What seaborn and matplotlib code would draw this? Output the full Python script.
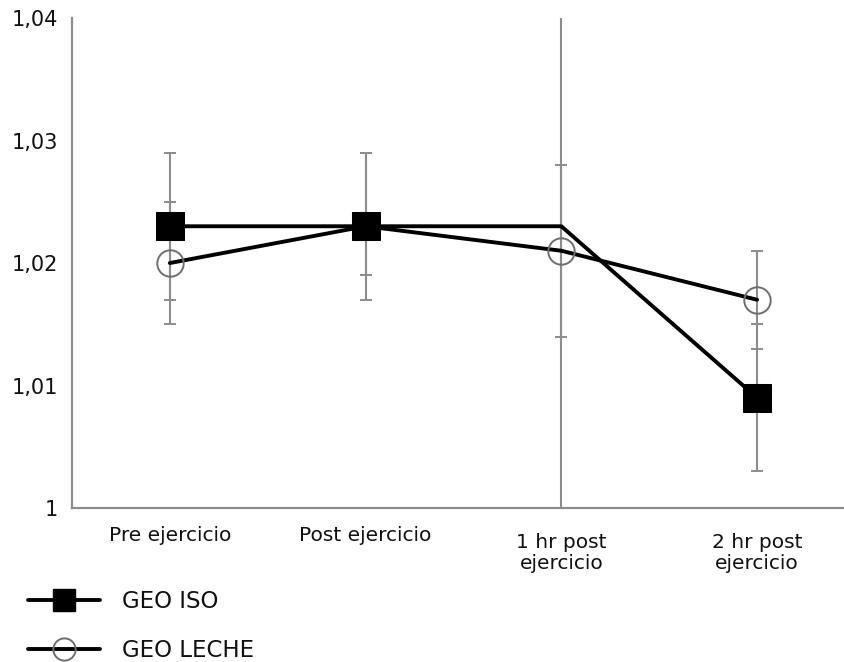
import numpy as np
import pandas as pd
import matplotlib
matplotlib.use("Agg")
import matplotlib.pyplot as plt
import seaborn as sns

# data
CATEGORIES = ["Pre ejercicio", "Post ejercicio", "1 hr post\nejercicio", "2 hr post\nejercicio"]
ISO_MEAN = [1.023, 1.023, 1.023, 1.009]
ISO_ERR_LOW = [0.006, 0.006, 0.030, 0.006]
ISO_ERR_HIGH = [0.006, 0.006, 0.030, 0.006]
ISO_MARKED = [0, 1, 3]  # no marker drawn at "1 hr post" in the source
LECHE_MEAN = [1.020, 1.023, 1.021, 1.017]
LECHE_ERR_LOW = [0.005, 0.004, 0.007, 0.004]
LECHE_ERR_HIGH = [0.005, 0.006, 0.007, 0.004]
SERIES = ["GEO ISO", "GEO LECHE"]
YTICKS = [1.00, 1.01, 1.02, 1.03, 1.04]
YTICK_LABELS = ["1", "1,01", "1,02", "1,03", "1,04"]

sns.set_style("white")
plt.rcParams["font.family"] = ["DejaVu Sans"]
plt.rcParams["text.color"] = "#111111"
plt.rcParams["xtick.labelcolor"] = "#111111"
plt.rcParams["ytick.labelcolor"] = "#111111"

GRAY = "#8c8c8c"

df = pd.DataFrame({
    "momento": CATEGORIES * 2,
    "valor": ISO_MEAN + LECHE_MEAN,
    "grupo": [SERIES[0]] * len(CATEGORIES) + [SERIES[1]] * len(CATEGORIES),
})

fig = plt.figure(figsize=(8.45, 6.62), dpi=100)
ax = fig.add_axes([0.0852, 0.2326, 0.9266, 0.7402])

# error bars first, so markers sit on top
ax.errorbar(CATEGORIES, ISO_MEAN, yerr=[ISO_ERR_LOW, ISO_ERR_HIGH], fmt="none",
            ecolor=GRAY, elinewidth=1.5, capsize=4.5, capthick=1.4, zorder=1)
ax.errorbar(CATEGORIES, LECHE_MEAN, yerr=[LECHE_ERR_LOW, LECHE_ERR_HIGH], fmt="none",
            ecolor=GRAY, elinewidth=1.5, capsize=4.5, capthick=1.4, zorder=1)

# GEO LECHE drawn first so the GEO ISO squares end up on top
sns.lineplot(data=df[df["grupo"] == SERIES[1]], x="momento", y="valor",
             color="black", marker="o", markersize=19, markerfacecolor="none",
             markeredgecolor="#6e6e6e", markeredgewidth=1.4,
             linewidth=2.8, ax=ax, sort=False, legend=False, zorder=2)
sns.lineplot(data=df[df["grupo"] == SERIES[0]], x="momento", y="valor",
             color="black", marker="s", markersize=20, markerfacecolor="black",
             markeredgecolor="black", markevery=ISO_MARKED,
             linewidth=2.8, ax=ax, sort=False, legend=False, zorder=3)

ax.set_ylim(1.0, 1.04)
ax.set_xlim(-0.5, len(CATEGORIES) - 0.5)
ax.set_yticks(YTICKS)
ax.set_yticklabels(YTICK_LABELS, fontsize=15)
ax.set_xticks(range(len(CATEGORIES)))
ax.set_xticklabels(CATEGORIES, fontsize=14.5, linespacing=1.15)
ax.tick_params(axis="x", which="major", length=0, pad=13)
# two-line labels sit a little lower in the source
for tick, cat in zip(ax.xaxis.get_major_ticks(), CATEGORIES):
    if "\n" in cat:
        tick.set_pad(18)
ax.set_xticks(np.arange(0.5, len(CATEGORIES) - 0.5, 1.0), minor=True)
ax.tick_params(axis="x", which="minor", length=6, width=1.4, color=GRAY, direction="out")
ax.tick_params(axis="y", length=6, width=1.4, color=GRAY, direction="out", pad=4)
ax.set_xlabel("")
ax.set_ylabel("")

for side in ["top", "right"]:
    ax.spines[side].set_visible(False)
for side in ["left", "bottom"]:
    ax.spines[side].set_color(GRAY)
    ax.spines[side].set_linewidth(1.6)

handles = [
    plt.Line2D([], [], color="black", lw=2.8, marker="s", markersize=16,
               markerfacecolor="black", markeredgecolor="black"),
    plt.Line2D([], [], color="black", lw=2.8, marker="o", markersize=16,
               markerfacecolor="none", markeredgecolor="#6e6e6e", markeredgewidth=1.4),
]
fig.legend(handles, SERIES, loc="upper left", bbox_to_anchor=(0.0225, 0.122),
           frameon=False, fontsize=16.5, handlelength=3.15, handletextpad=0.95,
           labelspacing=1.1, borderaxespad=0)

plt.savefig("out.png", dpi=100)
